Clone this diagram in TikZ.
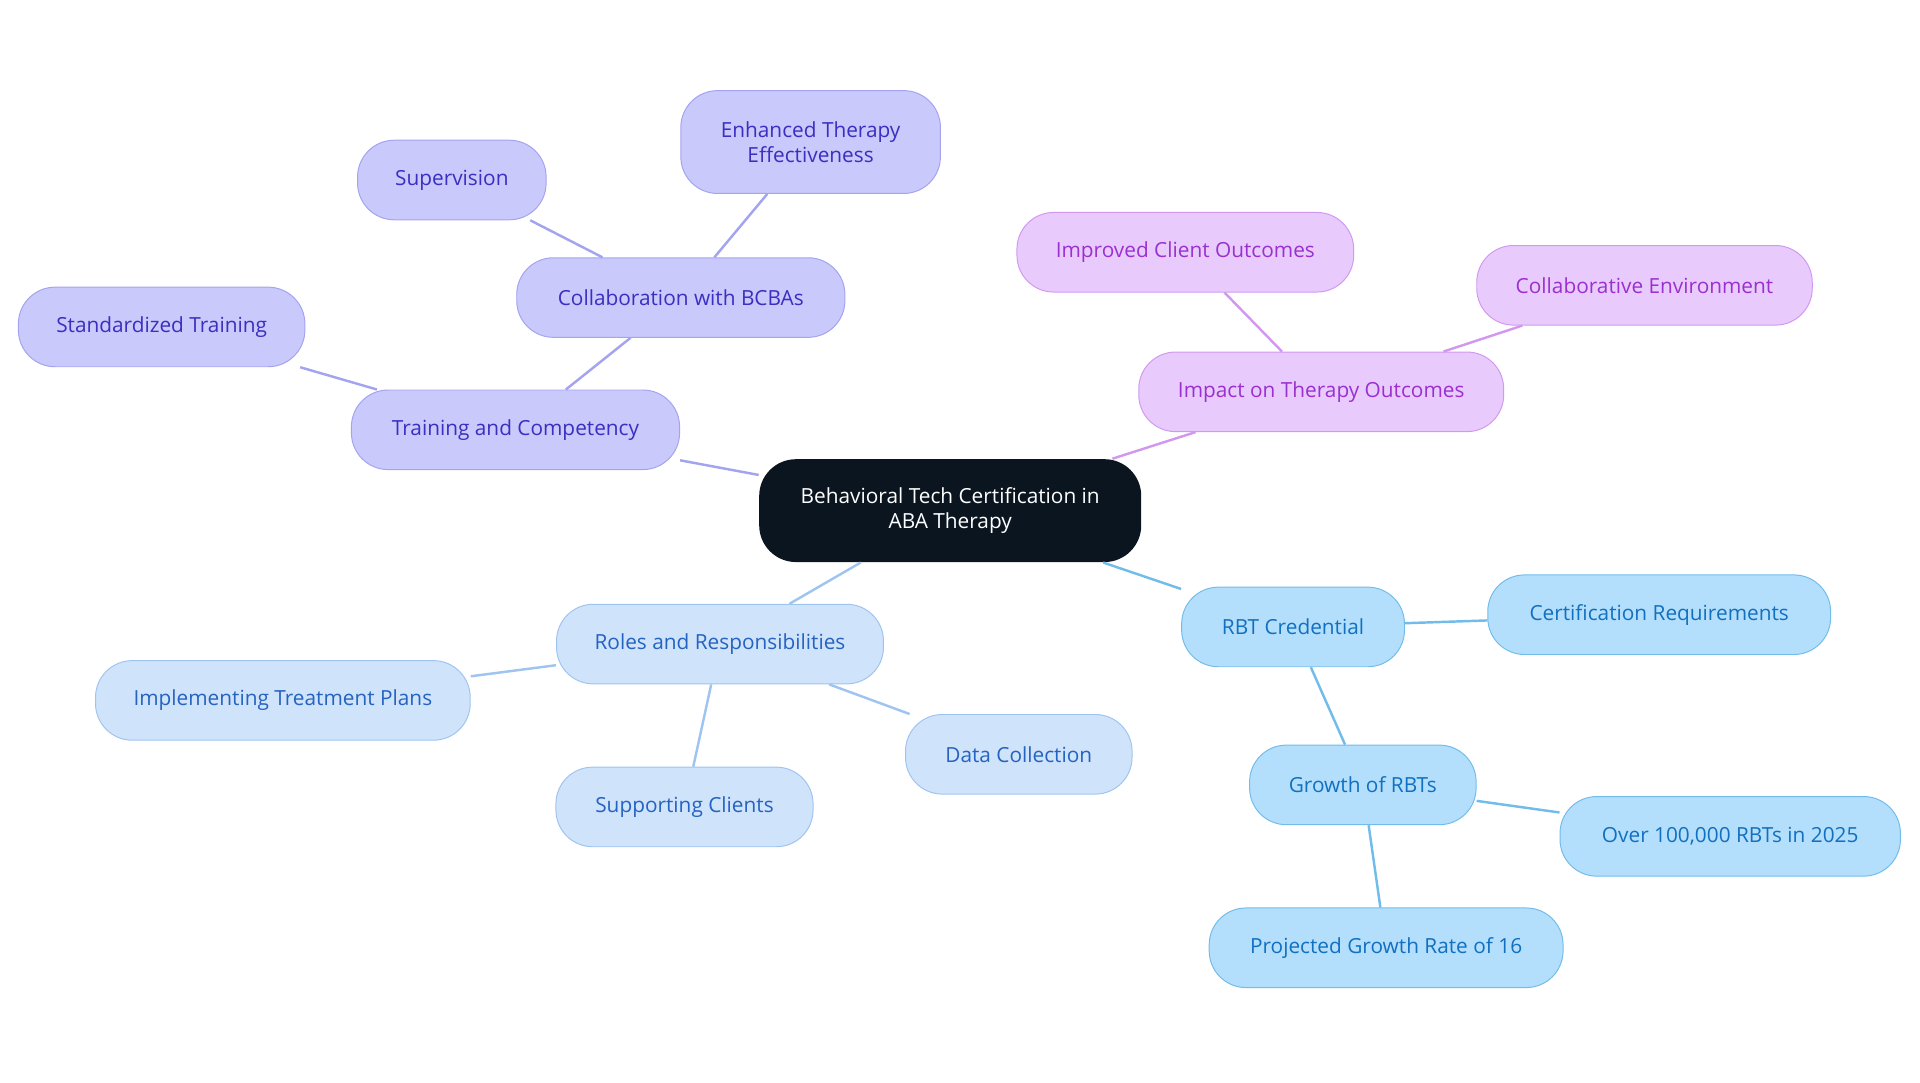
\documentclass[tikz,border=0pt]{standalone}
\usepackage{fontspec}
\setmainfont{Open Sans}
\definecolor{darkc}{HTML}{0B1520}
\definecolor{pf}{HTML}{C9C9FB}\definecolor{pd}{HTML}{A3A3F0}\definecolor{pt}{HTML}{3A2FC0}
\definecolor{mf}{HTML}{E8CBFC}\definecolor{md}{HTML}{D298F0}\definecolor{mt}{HTML}{9A30D0}
\definecolor{lf}{HTML}{CFE3FB}\definecolor{ld}{HTML}{A0C4F0}\definecolor{lt}{HTML}{2563C0}
\definecolor{bf}{HTML}{B3DFFC}\definecolor{bd}{HTML}{72BCEA}\definecolor{bt}{HTML}{1270C0}
\tikzset{x=1pt,y=-1pt,
 box/.style={rounded corners=30pt,minimum height=65pt,align=center,font=\fontsize{17}{20}\selectfont,line width=0.8pt,inner sep=4pt},
 pbox/.style={box,fill=pf,draw=pd,text=pt},
 mbox/.style={box,fill=mf,draw=md,text=mt},
 lbox/.style={box,fill=lf,draw=ld,text=lt},
 bbox/.style={box,fill=bf,draw=bd,text=bt},
 pe/.style={draw=pd,line width=2pt},
 me/.style={draw=md,line width=2pt},
 le/.style={draw=ld,line width=2pt},
 be/.style={draw=bd,line width=2pt}}
\begin{document}
\begin{tikzpicture}
\useasboundingbox (0,0) rectangle (1568,884);
\node[box,fill=darkc,text=white,minimum width=312pt,minimum height=84pt] (c) at (776,417) {Behavioral Tech Certification in\\ABA Therapy};
\node[pbox,minimum width=268pt] (tc) at (421,351) {Training and Competency};
\node[pbox,minimum width=268pt] (cb) at (556,243) {Collaboration with BCBAs};
\node[pbox,minimum width=154pt] (su) at (369,147) {Supervision};
\node[pbox,minimum width=212pt,minimum height=84pt] (et) at (662,116) {Enhanced Therapy\\Effectiveness};
\node[pbox,minimum width=234pt] (st) at (132,267) {Standardized Training};
\node[mbox,minimum width=298pt] (io) at (1079,320) {Impact on Therapy Outcomes};
\node[mbox,minimum width=275pt] (ic) at (968,206) {Improved Client Outcomes};
\node[mbox,minimum width=274pt] (ce) at (1343,233) {Collaborative Environment};
\node[lbox,minimum width=267pt] (rr) at (588,526) {Roles and Responsibilities};
\node[lbox,minimum width=306pt] (it) at (231,572) {Implementing Treatment Plans};
\node[lbox,minimum width=210pt] (sc) at (559,659) {Supporting Clients};
\node[lbox,minimum width=185pt] (dc) at (832,616) {Data Collection};
\node[bbox,minimum width=182pt] (rb) at (1056,512) {RBT Credential};
\node[bbox,minimum width=280pt] (cr) at (1355,502) {Certification Requirements};
\node[bbox,minimum width=185pt] (gr) at (1113,641) {Growth of RBTs};
\node[bbox,minimum width=278pt] (ov) at (1413,683) {Over 100,000 RBTs in 2025};
\node[bbox,minimum width=289pt] (pg) at (1132,774) {Projected Growth Rate of 16};
\draw[pe] (c) -- (tc); \draw[pe] (tc) -- (cb); \draw[pe] (tc) -- (st);
\draw[pe] (cb) -- (su); \draw[pe] (cb) -- (et);
\draw[me] (c) -- (io); \draw[me] (io) -- (ic); \draw[me] (io) -- (ce);
\draw[le] (c) -- (rr); \draw[le] (rr) -- (it); \draw[le] (rr) -- (sc); \draw[le] (rr) -- (dc);
\draw[be] (c) -- (rb); \draw[be] (rb) -- (cr); \draw[be] (rb) -- (gr); \draw[be] (gr) -- (ov); \draw[be] (gr) -- (pg);
\end{tikzpicture}
\end{document}
